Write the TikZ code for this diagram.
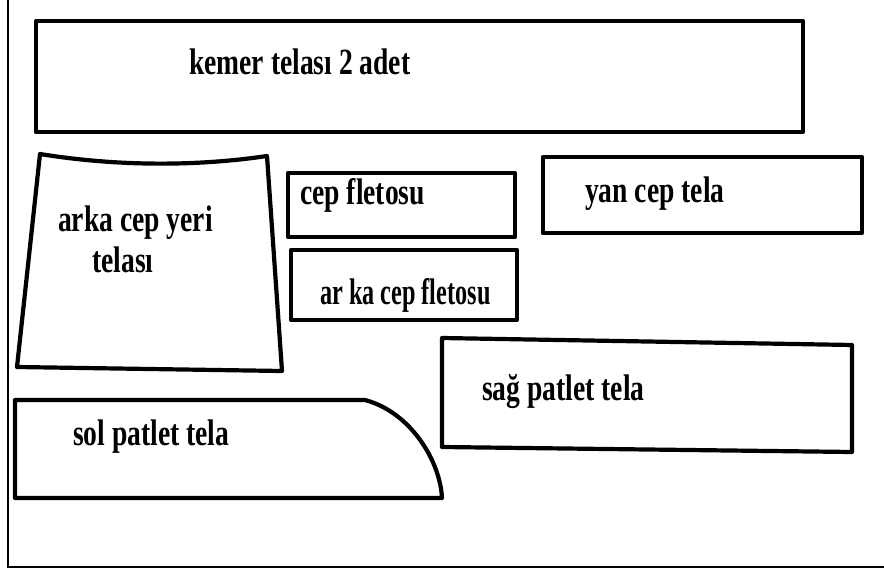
\documentclass[tikz,border=0pt]{standalone}
\usepackage{fontspec}
\setmainfont{Liberation Serif}
\usepackage{tikz}

\begin{document}
\begin{tikzpicture}[
  x=1pt, y=-1pt,
  piece/.style={draw=black, line width=4.2pt, line join=round},
  frameline/.style={draw=black, line width=1.3pt},
  lbl/.style={font=\fontsize{37}{40}\selectfont\bfseries, xscale=0.745,
              transform shape, inner sep=0pt, anchor=base west},
]
\useasboundingbox (0,0) rectangle (884,569);

%% ── Page frame ───────────────────────────────────────────────────────────────
\draw[frameline] (8,0) -- (8,567) -- (884,567);

%% ── Kemer telası (top strip) ─────────────────────────────────────────────────
\draw[piece] (36,21) rectangle (803,132);
\node[lbl] (kemer) at (189,75) {kemer telası 2 adet};

%% ── Arka cep yeri telası (left piece) ────────────────────────────────────────
\draw[piece] (40,154) .. controls (120,167) and (200,166) .. (267,156)
  -- (282,371) -- (17,367) -- cycle;
\node[lbl] (arkaA) at (58,232) {arka cep yeri};
\node[lbl] (arkaB) at (92,273) {telası};

%% ── Fletolar (middle column) ─────────────────────────────────────────────────
\draw[piece] (288,173) rectangle (515,237);
\node[lbl] (cepflet) at (300,205) {cep fletosu};

\draw[piece] (291,250) rectangle (517,320);
\node[lbl, xscale=0.88] (arkaflet) at (320,305) {ar ka cep fletosu};

%% ── Yan cep tela (right) ─────────────────────────────────────────────────────
\draw[piece] (543,157) rectangle (862,233);
\node[lbl] (yancep) at (585,203) {yan cep tela};

%% ── Sağ patlet tela ──────────────────────────────────────────────────────────
\draw[piece] (442,338) -- (852,345) -- (852,452) -- (442,447) -- cycle;
\node[lbl] (sagpat) at (482,400) {sağ patlet tela};

%% ── Sol patlet tela ──────────────────────────────────────────────────────────
\draw[piece] (15,400) -- (365,400)
  .. controls (410,412) and (440,460) .. (442,498) -- (15,498) -- cycle;
\node[lbl] (solpat) at (73,445) {sol patlet tela};

\end{tikzpicture}
\end{document}
